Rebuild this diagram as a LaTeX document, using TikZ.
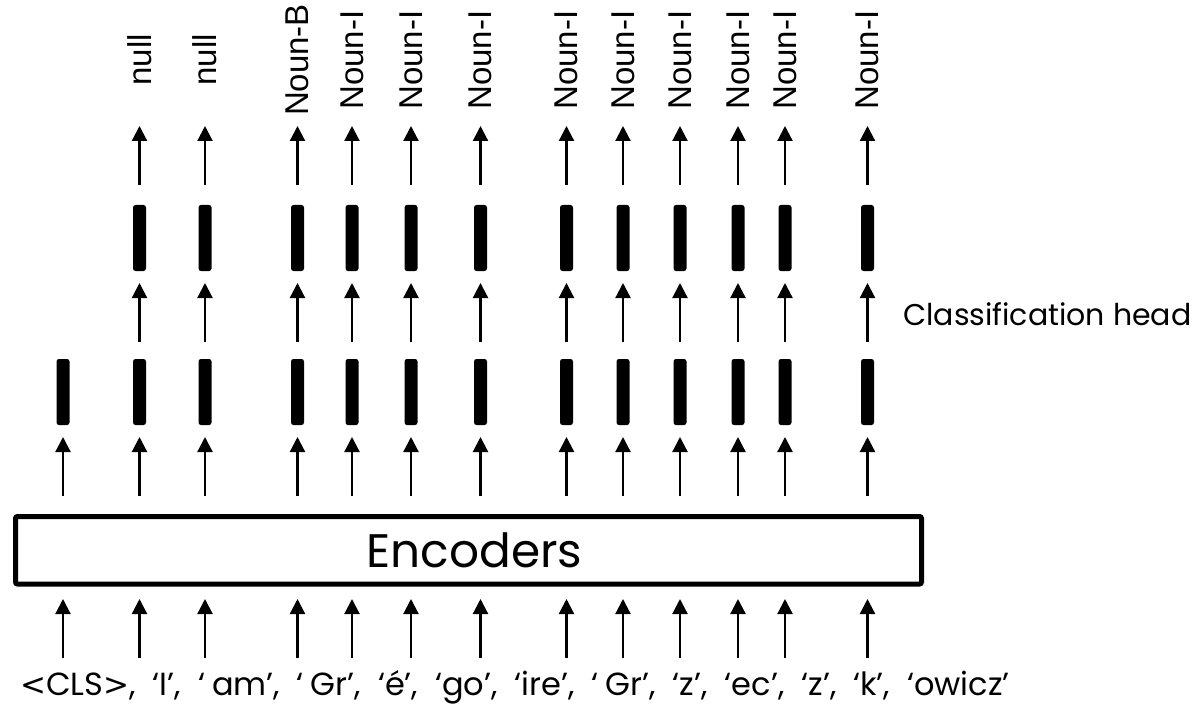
\documentclass[tikz,border=0pt]{standalone}
\usepackage{fontspec}
\setmainfont{Poppins}
\newfontfamily\tagfont{Liberation Sans}
\newfontfamily\signfont{DejaVu Sans}
\usetikzlibrary{arrows.meta}

% small gap inside a quoted token
\newcommand{\tokgap}{\hspace{7pt}}

\begin{document}
\begin{tikzpicture}[x=1pt,y=-1pt,
  flow/.style={-{Triangle[width=15pt,length=15pt]}, line width=2.2pt},
  vecbar/.style={rectangle, fill=black, minimum width=13pt, minimum height=66pt,
    inner sep=0pt, outer sep=0pt, rounded corners=2.5pt},
  encbox/.style={rectangle, draw=black, line width=5pt, rounded corners=2pt,
    minimum width=906pt, minimum height=67.5pt, inner sep=0pt,
    font=\fontsize{47}{52}\selectfont},
  tag/.style={rotate=90, inner sep=0pt, font=\tagfont\fontsize{33}{38}\selectfont},
  plain/.style={inner sep=0pt}]

\useasboundingbox (0,0) rectangle (1202,714);

% encoder block
\node[encbox] (enc) at (468.5,550.25) {\hspace*{12pt}Encoders};

% token inputs, encoder outputs and first layer of vectors
\foreach \x [count=\i] in {63,139.5,205,297.5,352,411,480.5,566.5,623,680,738,785,867.5} {
  \coordinate (tok\i) at (\x,658);
  \draw[flow, shorten >=12.5pt] (tok\i) -- (tok\i |- enc.south);
  \node[vecbar] (lo\i) at (\x,392) {};
  \draw[flow, shorten <=18pt, shorten >=12pt] (enc.north -| lo\i) -- (lo\i);
}

% classification head and predicted tags
\foreach \x/\t [count=\j from 2] in {139.5/null,205/null,297.5/Noun-B,352/Noun-I,
    411/Noun-I,480.5/Noun-I,566.5/Noun-I,623/Noun-I,680/Noun-I,738/Noun-I,
    785/Noun-I,867.5/Noun-I} {
  \node[vecbar] (up\j) at (\x,238) {};
  \draw[flow, shorten <=17pt, shorten >=12pt] (lo\j) -- (up\j);
  \coordinate (tip\j) at (\x,126);
  \draw[flow, shorten <=20pt] (up\j) -- (tip\j);
  \node[tag] (lab\j) at (\x,60) {\t};
}

\node[plain, anchor=base west, font=\fontsize{30}{36}\selectfont] (head) at (903,325)
  {Classification head};

\node[plain, anchor=base west, font=\fontsize{32}{36}\selectfont] (tokens) at (20,695)
  {\spaceskip=17pt {\signfont\fontsize{31}{36}\selectfont<}CLS{\signfont\fontsize{31}{36}\selectfont>}, ‘I’, ‘\tokgap am’, ‘\tokgap Gr’, ‘é’, ‘go’, ‘ire’, ‘\tokgap Gr’, ‘z’, ‘ec’, ‘z’, ‘k’, ‘owicz’};

\end{tikzpicture}
\end{document}
